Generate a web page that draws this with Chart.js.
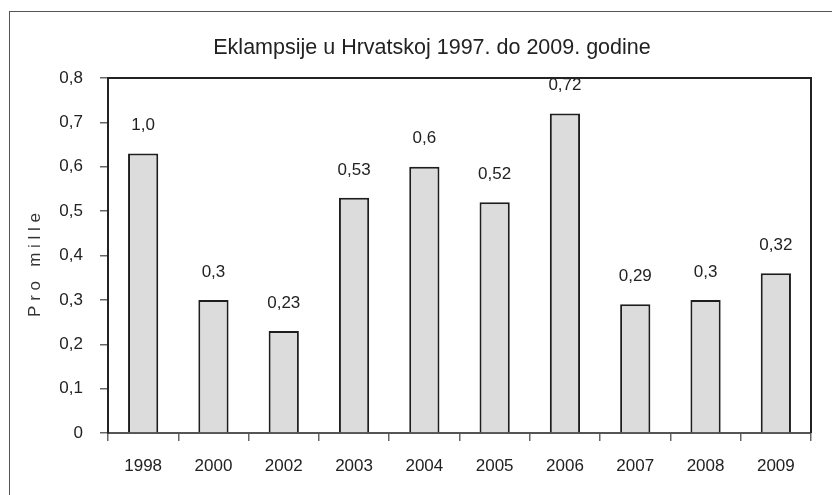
<!DOCTYPE html>
<html>
<head>
<meta charset="utf-8">
<script src="https://cdn.jsdelivr.net/npm/chart.js@4/dist/chart.umd.min.js"></script>
<style>
  html, body { margin: 0; padding: 0; background: #fff; }
  #wrap { position: relative; width: 832px; height: 495px; overflow: hidden; }
  #frame { position: absolute; left: 9px; top: 11px; width: 900px; height: 483px;
           border-left: 1px solid #555; border-top: 1px solid #555; }
  canvas { position: absolute; left: 0; top: 0; }
</style>
</head>
<body>
<div id="wrap">
  <div id="frame"></div>
  <canvas id="c" width="832" height="495"></canvas>
</div>
<script>
const categories = ['1998', '2000', '2002', '2003', '2004', '2005', '2006', '2007', '2008', '2009'];
const barValues = [0.63, 0.30, 0.23, 0.53, 0.60, 0.52, 0.72, 0.29, 0.30, 0.36];
const valueLabels = ['1,0', '0,3', '0,23', '0,53', '0,6', '0,52', '0,72', '0,29', '0,3', '0,32'];
const yTickLabels = ['0', '0,1', '0,2', '0,3', '0,4', '0,5', '0,6', '0,7', '0,8'];
const chartTitle = 'Eklampsije u Hrvatskoj 1997. do 2009. godine';
const yTitle = 'P r o   m i l l e    ';

const FONT = 'Arial, "Liberation Sans", sans-serif';

const valueLabelPlugin = {
  id: 'valueLabels',
  afterDatasetsDraw(chart) {
    const ctx = chart.ctx;
    const meta = chart.getDatasetMeta(0);
    ctx.save();
    ctx.font = '17px ' + FONT;
    ctx.fillStyle = '#222';
    ctx.textAlign = 'center';
    ctx.textBaseline = 'middle';
    meta.data.forEach((bar, i) => {
      ctx.fillText(valueLabels[i], bar.x, bar.y - 28);
    });
    ctx.restore();
  }
};

const titlePlugin = {
  id: 'customTitle',
  afterDraw(chart) {
    const ctx = chart.ctx;
    ctx.save();
    ctx.font = '21.5px ' + FONT;
    ctx.fillStyle = '#222';
    ctx.textAlign = 'center';
    ctx.textBaseline = 'middle';
    ctx.fillText(chartTitle, 432, 48);
    ctx.restore();
  }
};

const boxPlugin = {
  id: 'plotBox',
  afterDraw(chart) {
    const {ctx, chartArea: a} = chart;
    ctx.save();
    ctx.strokeStyle = '#222';
    ctx.lineWidth = 2;
    ctx.beginPath();
    ctx.moveTo(a.left, a.top);
    ctx.lineTo(a.right, a.top);
    ctx.lineTo(a.right, a.bottom);
    ctx.stroke();
    ctx.restore();
  }
};

new Chart(document.getElementById('c'), {
  type: 'bar',
  data: {
    labels: categories,
    datasets: [{
      data: barValues,
      backgroundColor: '#dcdcdd',
      borderColor: '#1e1e1e',
      borderWidth: 2,
      barPercentage: 0.43,
      categoryPercentage: 1.0
    }]
  },
  options: {
    responsive: false,
    animation: false,
    layout: { padding: { left: 0, right: 21, top: 78, bottom: 0 } },
    plugins: {
      legend: { display: false },
      tooltip: { enabled: false },
      title: { display: false }
    },
    scales: {
      x: {
        offset: true,
        grid: { offset: true, drawOnChartArea: false, drawTicks: true, tickLength: 8, color: '#666', lineWidth: 1.5 },
        border: { display: true, color: '#555', width: 2 },
        ticks: { color: '#222', font: { family: FONT, size: 17 }, padding: 15, maxRotation: 0, autoSkip: false },
        afterFit(scale) { scale.height = 62; }
      },
      y: {
        min: 0,
        max: 0.8,
        grid: { drawOnChartArea: false, drawTicks: true, tickLength: 8, color: '#666', lineWidth: 1.5 },
        border: { display: true, color: '#222', width: 2 },
        ticks: {
          stepSize: 0.1,
          color: '#222',
          font: { family: FONT, size: 17 },
          padding: 17,
          callback: (v, i) => yTickLabels[i]
        },
        title: {
          display: true,
          text: yTitle,
          color: '#333',
          font: { family: FONT, size: 17 },
          padding: { top: 25, bottom: 0 }
        },
        afterFit(scale) { scale.width = 108; }
      }
    }
  },
  plugins: [valueLabelPlugin, titlePlugin, boxPlugin]
});
</script>
</body>
</html>
